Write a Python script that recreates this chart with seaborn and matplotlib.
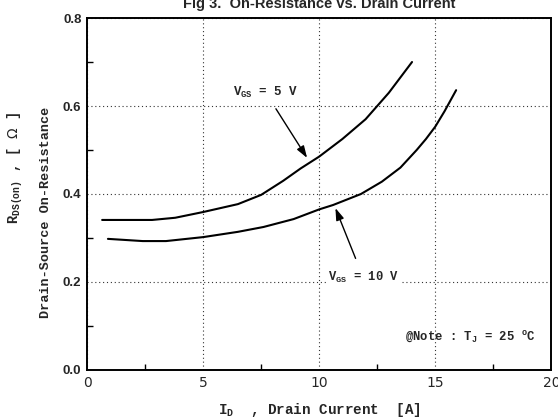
import numpy as np
import pandas as pd
import matplotlib
matplotlib.use("Agg")
import matplotlib.pyplot as plt
from matplotlib.ticker import MultipleLocator
import seaborn as sns

# curve values
id_5v = [0.65, 1.5, 2.8, 3.8, 5.0, 6.5, 7.5, 8.45, 9.2, 10.0, 11.0, 12.0, 13.0, 14.0]
r_5v  = [0.341, 0.341, 0.341, 0.346, 0.359, 0.377, 0.398, 0.43, 0.458, 0.485, 0.525, 0.57, 0.63, 0.70]

id_10v = [0.9, 2.4, 3.4, 5.0, 6.5, 7.6, 8.9, 10.0, 10.6, 11.8, 12.7, 13.5, 14.2, 14.6, 15.0, 15.4, 15.9]
r_10v  = [0.298, 0.293, 0.293, 0.302, 0.314, 0.325, 0.343, 0.365, 0.375, 0.40, 0.428, 0.46, 0.50, 0.525, 0.553, 0.588, 0.636]

x_ticks = [0, 5, 10, 15, 20]
y_ticks = [0.0, 0.2, 0.4, 0.6, 0.8]

sns.set_theme(style="ticks")
plt.rcParams.update({
    "font.family": ["Liberation Sans", "DejaVu Sans"],
    "axes.linewidth": 1.4,
})
MONO = ["Liberation Mono", "DejaVu Sans Mono"]

df = pd.concat([
    pd.DataFrame({"I": id_5v, "R": r_5v, "vgs": "5V"}),
    pd.DataFrame({"I": id_10v, "R": r_10v, "vgs": "10V"}),
])

fig = plt.figure(figsize=(5.58, 4.19), dpi=100, facecolor="white")
ax = fig.add_axes([0.156, 0.117, 0.832, 0.840])
ax.set_facecolor("white")

sns.lineplot(data=df, x="I", y="R", units="vgs", estimator=None, sort=False,
             color="black", linewidth=1.5, ax=ax, legend=False)

ax.set_xlim(0, 20)
ax.set_ylim(0, 0.8)
ax.set_xticks(x_ticks)
ax.set_yticks(y_ticks)
ax.set_xticklabels([str(t) for t in x_ticks], family="DejaVu Sans", fontsize=10)
ax.set_yticklabels([f"{t:.1f}" for t in y_ticks], fontweight="bold", fontsize=9.5)
ax.xaxis.set_minor_locator(MultipleLocator(2.5))
ax.yaxis.set_minor_locator(MultipleLocator(0.1))
ax.tick_params(which="both", direction="in", color="black", width=1.0)
ax.tick_params(which="major", length=0, pad=4)
ax.tick_params(which="minor", length=4)
ax.grid(True, which="major", linestyle=(0, (1, 2.5)), color="#333333", linewidth=0.8)
for s in ax.spines.values():
    s.set_color("black")
ax.set_xlabel("")
ax.set_ylabel("")

# axis labels
ax.text(0.5, -0.088, r"I$_{\mathregular{D}}$  , Drain Current  [A]", transform=ax.transAxes,
        ha="center", va="top", family=MONO, fontweight="bold", fontsize=10.3)
fig.text(0.027, 0.599, r"R$_{\mathregular{DS(on)}}$ , [ $\Omega$ ]", rotation=90,
         ha="center", va="center", family=MONO, fontweight="bold", fontsize=10)
fig.text(0.083, 0.492, "Drain-Source On-Resistance", rotation=90,
         ha="center", va="center", family=MONO, fontweight="bold", fontsize=9.7)

# title, clipped at the top of the figure like the original
fig.text(0.572, 0.981, "Fig 3.  On-Resistance vs. Drain Current",
         ha="center", va="baseline", fontweight="bold", fontsize=10.5)

# curve annotations
ax.annotate(r"V$_{\mathregular{GS}}$ = 5 V", xy=(9.48, 0.482), xytext=(7.7, 0.63),
            ha="center", va="center", family=MONO, fontweight="bold", fontsize=9,
            bbox=dict(facecolor="white", edgecolor="none", pad=1),
            arrowprops=dict(arrowstyle="-|>,head_length=0.6,head_width=0.2", color="black",
                            lw=1.0, mutation_scale=12, shrinkA=6, shrinkB=0))
ax.annotate(r"V$_{\mathregular{GS}}$ = 10 V", xy=(10.7, 0.368), xytext=(11.9, 0.21),
            ha="center", va="center", family=MONO, fontweight="bold", fontsize=8.7,
            bbox=dict(facecolor="white", edgecolor="none", pad=1),
            arrowprops=dict(arrowstyle="-|>,head_length=0.6,head_width=0.2", color="black",
                            lw=1.0, mutation_scale=12, shrinkA=8, shrinkB=0))
ax.text(16.5, 0.075, r"@Note : T$_{\mathregular{J}}$ = 25 $^{\mathregular{o}}$C",
        ha="center", va="center", family=MONO, fontweight="bold", fontsize=8.8)

fig.savefig("out.png", dpi=100, facecolor="white")
